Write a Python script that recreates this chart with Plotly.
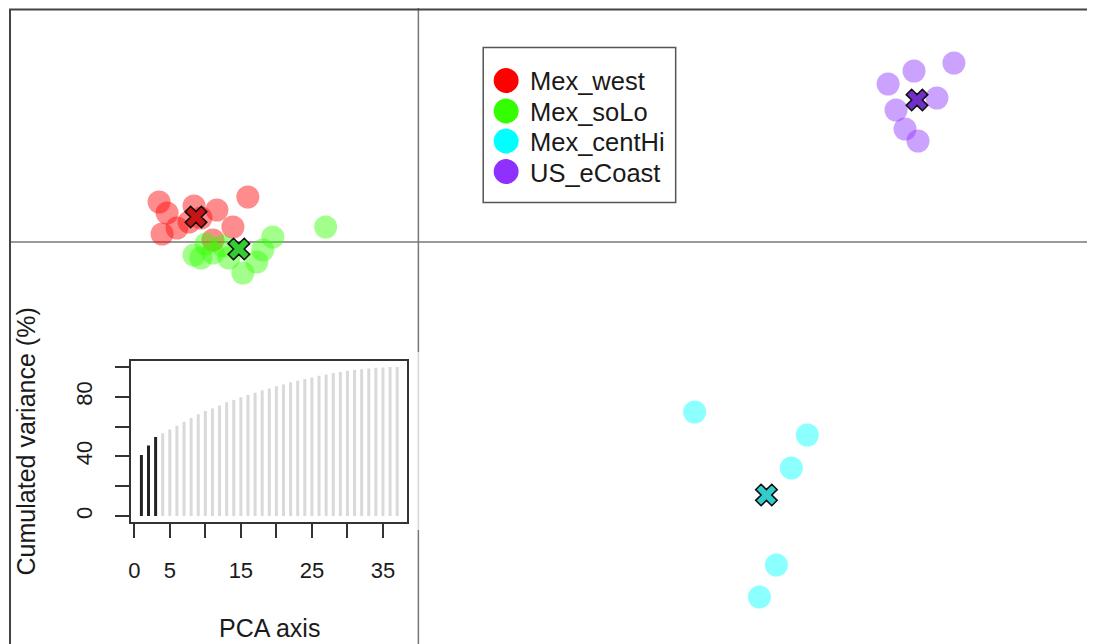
import plotly.graph_objects as go

W, H = 1095, 644

# ---------------- data ----------------
groups = ["Mex_west", "Mex_soLo", "Mex_centHi", "US_eCoast"]
group_colors = ["#FF0000", "#33FF00", "#00FFFF", "#8F30FF"]
centroid_colors = ["#C81414", "#33CC33", "#33CCCC", "#7030C8"]

west_ld1 = [-5.20, -5.04, -4.50, -4.04, -3.42, -5.14, -4.84, -4.60, -3.72, -4.12, -4.36]
west_ld2 = [0.80, 0.58, 0.72, 0.64, 0.90, 0.16, 0.28, 0.40, 0.30, 0.04, 0.48]
solo_ld1 = [-4.50, -4.12, -3.92, -3.52, -3.24, -3.12, -2.92, -1.86, -4.26, -3.80, -4.36]
solo_ld2 = [-0.26, -0.22, -0.08, -0.62, -0.40, -0.16, 0.10, 0.30, -0.04, -0.32, -0.32]
centhi_ld1 = [5.54, 7.80, 7.48, 7.18, 6.84]
centhi_ld2 = [-3.40, -3.86, -4.52, -6.46, -7.10]
ecoast_ld1 = [9.42, 9.94, 10.74, 9.58, 10.40, 9.76, 10.02]
ecoast_ld2 = [3.16, 3.42, 3.58, 2.64, 2.88, 2.26, 2.02]

centroid_ld1 = [-4.46, -3.60, 6.98, 10.00]
centroid_ld2 = [0.50, -0.14, -5.06, 2.84]

pca_axis = list(range(1, 38))
cum_variance = [40.9, 47.4, 53.0, 55.5, 58.1, 60.6, 63.3, 65.7, 68.2, 70.4,
                72.2, 74.2, 76.3, 77.8, 79.6, 81.2, 82.7, 84.3, 85.6, 87.0,
                88.3, 89.7, 90.7, 91.9, 93.0, 94.1, 95.0, 95.9, 96.7, 97.4,
                98.0, 98.5, 99.0, 99.4, 99.7, 99.9, 100.0]
n_retained = 3
x_ticks = [0, 5, 10, 15, 20, 25, 30, 35]
x_ticklabels = ["0", "5", "", "15", "", "25", "", "35"]
y_ticks = [0, 20, 40, 60, 80, 100]
y_ticklabels = ["0", "", "40", "", "80", ""]

# ---------------- helpers (page pixel -> paper; page has a body margin) ----------------
OFFX = 9.5
OFFY = 8

def px(x):
    return (x - OFFX) / W

def py(y):
    return 1 - (y - OFFY) / H

FONT = "Liberation Sans, Arial, sans-serif"

fig = go.Figure()

xs = [west_ld1, solo_ld1, centhi_ld1, ecoast_ld1]
ys = [west_ld2, solo_ld2, centhi_ld2, ecoast_ld2]
for g, c, x, y in zip(groups, group_colors, xs, ys):
    fig.add_trace(go.Scatter(x=x, y=y, mode="markers", name=g,
                             marker=dict(size=23, color=c, opacity=0.45, line=dict(width=0)),
                             showlegend=False, xaxis="x", yaxis="y"))

for i in range(4):
    fig.add_trace(go.Scatter(x=[centroid_ld1[i]], y=[centroid_ld2[i]], mode="markers",
                             marker=dict(symbol="x", size=19, color=centroid_colors[i],
                                         line=dict(width=1.6, color="#111111")),
                             showlegend=False, xaxis="x", yaxis="y"))

bar_colors = ["#222222" if i < n_retained else "#D9D9D9" for i in range(len(pca_axis))]
fig.add_trace(go.Bar(x=pca_axis, y=cum_variance, width=0.42, marker=dict(color=bar_colors, line=dict(width=0)),
                     showlegend=False, xaxis="x2", yaxis="y2"))

shapes = []
# zero lines of the main plot
shapes.append(dict(type="line", xref="x", yref="paper", x0=0, x1=0, y0=0, y1=py(7),
                   line=dict(color="#777777", width=1.5), layer="below"))
shapes.append(dict(type="line", xref="paper", yref="y", x0=px(8), x1=1, y0=0, y1=0,
                   line=dict(color="#777777", width=1.5), layer="below"))
# translucent inset background
shapes.append(dict(type="rect", xref="x", yref="y", x0=-8.16, x1=0.06, y0=-5.76, y1=-2.2,
                   fillcolor="rgba(255,255,255,0.7)", line=dict(width=0), layer="below"))
# frame (left and top)
shapes.append(dict(type="line", xref="paper", yref="paper", x0=px(8.5), x1=px(8.5), y0=0, y1=py(9),
                   line=dict(color="#444444", width=2)))
shapes.append(dict(type="line", xref="paper", yref="paper", x0=px(7.5), x1=1, y0=py(9.5), y1=py(9.5),
                   line=dict(color="#444444", width=2)))
# legend box
shapes.append(dict(type="rect", xref="paper", yref="paper", x0=px(483), x1=px(676), y0=py(202.5), y1=py(47.5),
                   fillcolor="white", line=dict(color="#555555", width=1.5)))
leg_y = [80.5, 111, 141, 171.5]
annotations = []
r = 12.5
for g, c, yy in zip(groups, group_colors, leg_y):
    shapes.append(dict(type="circle", xref="paper", yref="paper", x0=px(506 - r), x1=px(506 + r),
                       y0=py(yy + r), y1=py(yy - r), fillcolor=c, line=dict(width=0)))
    annotations.append(dict(text=g, xref="paper", yref="paper", x=px(528), y=py(yy + 1),
                            xanchor="left", yanchor="middle", showarrow=False,
                            font=dict(family=FONT, size=25.5, color="#1a1a1a")))

annotations.append(dict(text="PCA axis", xref="paper", yref="paper", x=px(269), y=py(628),
                        xanchor="center", yanchor="middle", showarrow=False,
                        font=dict(family=FONT, size=25, color="#1a1a1a")))
annotations.append(dict(text="Cumulated variance (%)", xref="paper", yref="paper", x=px(25), y=py(441),
                        xanchor="center", yanchor="middle", showarrow=False, textangle=-90,
                        font=dict(family=FONT, size=25, color="#1a1a1a")))

# main axes: domain spans the whole figure at 50 px per unit, origin at page (418, 242)
x_lo, x_hi = (OFFX - 418) / 50, (OFFX + W - 418) / 50
y_lo, y_hi = (242 - (OFFY + H)) / 50, (242 - 9) / 50

fig.update_layout(
    width=W, height=H,
    margin=dict(l=0, r=0, t=0, b=0),
    paper_bgcolor="white", plot_bgcolor="rgba(0,0,0,0)",
    showlegend=False,
    xaxis=dict(domain=[0, 1], range=[x_lo, x_hi], visible=False, fixedrange=True),
    yaxis=dict(domain=[0, py(9)], range=[y_lo, y_hi], visible=False, fixedrange=True),
    xaxis2=dict(domain=[px(130), px(407)], range=[-0.44, 38.44], anchor="y2",
                showline=True, mirror=True, linecolor="#333333", linewidth=1.5,
                showgrid=False, zeroline=False, ticks="outside", ticklen=14, tickwidth=1.5,
                tickcolor="#333333", tickvals=x_ticks, ticktext=x_ticklabels,
                tickfont=dict(family=FONT, size=22, color="#1a1a1a"), ticklabelstandoff=14),
    yaxis2=dict(domain=[py(522), py(361)], range=[-4, 104], anchor="x2",
                showline=True, mirror=True, linecolor="#333333", linewidth=1.5,
                showgrid=False, zeroline=False, ticks="outside", ticklen=14, tickwidth=1.5,
                tickcolor="#333333", tickvals=y_ticks, ticktext=y_ticklabels, tickangle=-90,
                tickfont=dict(family=FONT, size=22, color="#1a1a1a"), ticklabelstandoff=15),
    shapes=shapes,
    annotations=annotations,
)

fig.write_html("out.html")
